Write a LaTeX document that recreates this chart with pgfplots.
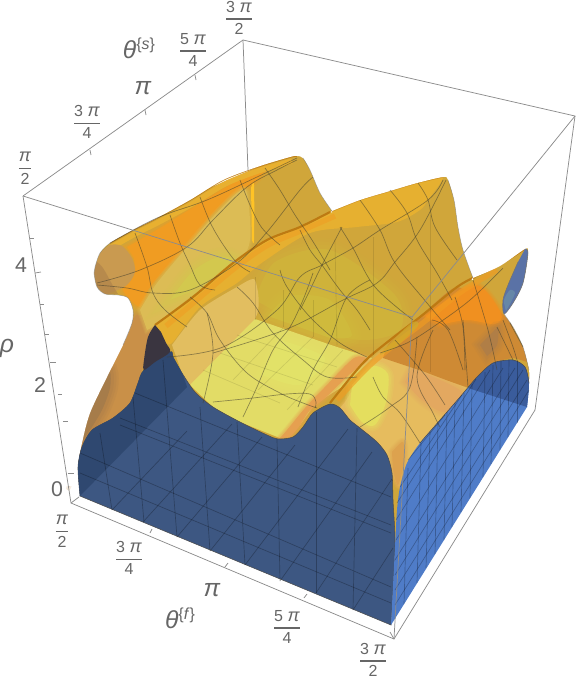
\documentclass[border=0pt]{standalone}
\usepackage{amsmath}
\usepackage{fontspec}
\setmainfont{Liberation Sans}
\usepackage{pgfplots}
\pgfplotsset{compat=1.18}
\definecolor{lab}{HTML}{666666}
\definecolor{frm}{HTML}{8C8C8C}
\definecolor{sbase}{HTML}{D0A63A}
\definecolor{leftwall}{HTML}{C99048}
\definecolor{leftdark}{HTML}{A67C4A}
\definecolor{capc}{HTML}{C99A50}
\definecolor{brightor}{HTML}{F09C22}
\definecolor{crest}{HTML}{BD7A12}
\definecolor{valA}{HTML}{DCBC55}
\definecolor{valB}{HTML}{D3C84E}
\definecolor{ridgeband}{HTML}{E6B030}
\definecolor{ridgeup}{HTML}{E8B030}
\definecolor{wallmid}{HTML}{CFB23A}
\definecolor{wallmid2}{HTML}{CFBA3C}
\definecolor{walltan}{HTML}{E2BE60}
\definecolor{floory}{HTML}{E2DC66}
\definecolor{floorhi}{HTML}{E2E268}
\definecolor{flank}{HTML}{E6A050}
\definecolor{rfloor}{HTML}{E6BC5E}
\definecolor{ryell}{HTML}{E4DE5E}
\definecolor{rorange}{HTML}{E3A860}
\definecolor{rtan}{HTML}{DDA24E}
\definecolor{dome}{HTML}{CE8A34}
\definecolor{domehi}{HTML}{F09020}
\definecolor{domedk}{HTML}{B07E46}
\definecolor{fface}{HTML}{3D5782}
\definecolor{fdark}{HTML}{2F4870}
\definecolor{rface}{HTML}{4F7CC8}
\definecolor{rfacedk}{HTML}{3A5C9C}
\definecolor{ell}{HTML}{5A72A6}
\definecolor{ell2}{HTML}{6C90A8}
\definecolor{darkb}{HTML}{3A3540}
% filled region, feathered region, curves: all in picture coordinates
\newcommand\reg[2]{\addplot[forget plot,draw=none,smooth,tension=0.5,#1] coordinates {#2};}
\newcommand\soft[3]{%
  \addplot[forget plot,smooth,tension=0.5,draw=#2,line width=#1pt,opacity=0.16] coordinates {#3} -- cycle;
  \addplot[forget plot,smooth,tension=0.5,draw=#2,line width=0.7*#1pt,opacity=0.2] coordinates {#3} -- cycle;
  \addplot[forget plot,smooth,tension=0.5,draw=#2,line width=0.4*#1pt,opacity=0.25] coordinates {#3} -- cycle;
  \addplot[forget plot,smooth,tension=0.5,draw=none,fill=#2] coordinates {#3};}
\newcommand\crv[2]{\addplot[mesh line,#1] coordinates {#2};}
\newcommand\lin[1]{\addplot[forget plot,frm,line width=0.55pt] coordinates {#1};}
\newcommand\fg[1]{\addplot[forget plot,color=black,opacity=0.26,line width=0.5pt] coordinates {#1};}
\newcommand\fs[1]{\addplot[forget plot,color=black,opacity=0.10,line width=0.5pt] coordinates {#1};}
\newcommand\fr[2]{$\genfrac{}{}{1pt}{0}{\text{#1}}{\text{#2}}$}
\newcommand\pii{{\fontsize{13.5}{14}\selectfont\textit{π}}}
\newcommand\pib{\textit{π}}
\pgfplotsset{
  mesh line/.style={forget plot,smooth,tension=0.6,color=black!70!olive,opacity=0.55,line width=0.5pt},
}
\tikzset{
  tk/.style={font=\fontsize{12}{13}\selectfont,text=lab,inner sep=0pt},
  bigt/.style={font=\fontsize{16}{17}\selectfont,text=lab,inner sep=0pt},
  hugt/.style={font=\fontsize{18.5}{19}\selectfont,text=lab,inner sep=0pt},
}
\begin{document}
\begin{tikzpicture}
\path[use as bounding box] (0,0) rectangle (432pt,509.25pt);
\begin{axis}[
    anchor=south west, at={(0,0)},
    width=432pt, height=509.25pt, scale only axis,
    xmin=0, xmax=576, ymin=0, ymax=679, y dir=reverse,
    hide axis, clip=false,
  ]
% surface body
\addplot[forget plot,fill=sbase,draw=none] coordinates {(70,470) (90,400) (90,240) (297,150) (335,200) (450,170) (470,270) (535,240) (535,390) (400,560) (300,470)} -- cycle;
% left wall
\soft{8}{leftwall}{(78,460) (90,413) (107,377) (127,335) (136,315) (152,322) (156,332) (145,360) (138,383) (130,403) (113,418) (92,430)}
\soft{12}{leftdark}{(80,445) (90,413) (103,380) (110,372) (110,388) (102,410) (90,430)}
% first ridge
\soft{6}{brightor}{(127,247) (160,228) (200,203) (235,182) (265,168) (253,183) (230,197) (207,220) (190,243) (162,273) (148,290) (140,307) (123,290) (134,275) (134,258)}
\addplot[forget plot,color=ridgeup,line width=4pt,smooth] coordinates {(112,247) (135,234) (159,222) (192,204) (225,184) (258,171) (292,161)};
\addplot[forget plot,color=crest,line width=1.3pt,smooth,opacity=0.85] coordinates {(110,243) (133,230) (157,218) (190,200) (223,180) (257,167) (290,157) (297,156)};
% end cap of the first ridge
\reg{fill=capc}{(100,253) (110,245) (122,246) (132,258) (135,272) (127,285) (113,292) (105,294) (97,287) (94,273) (95,267)}
\reg{fill=leftdark,opacity=0.5}{(105,294) (97,287) (94,273) (96,262) (103,268) (112,284) (118,294)}
% valley behind the middle ridge
\soft{5}{valA}{(140,310) (157,283) (187,247) (210,220) (237,193) (247,193) (250,240) (237,263) (190,297) (155,325) (147,330)}
\soft{14}{valB}{(170,300) (192,272) (215,258) (232,258) (220,272) (190,292)}
\reg{fill=orange!55!yellow!85!white}{(251,188) (254,185) (254,240) (252,240)}
% valley wall between the middle and front ridges
\soft{16}{wallmid}{(255,300) (275,262) (330,250) (395,295) (400,330) (360,340) (300,325)}
\soft{14}{wallmid2}{(268,316) (290,296) (330,300) (352,335) (330,338)}
% middle ridge
\reg{fill=ridgeband}{(155,325) (193,297) (233,263) (267,240) (300,227) (330,212) (360,200) (390,191) (417,183) (443,177) (428,200) (420,210) (397,222) (357,227) (310,233) (263,262) (237,283) (200,307) (172,343) (165,340)}
\addplot[forget plot,color=brightor,line width=4pt,smooth,opacity=0.55] coordinates {(166,326) (198,299) (235,268) (268,245) (303,230) (335,216)};
\addplot[forget plot,color=crest,line width=1.6pt,smooth] coordinates {(155,325) (193,297) (233,263) (267,240) (300,227) (330,212)};
\addplot[forget plot,color=crest,line width=0.8pt,smooth,opacity=0.6] coordinates {(330,212) (360,200) (390,191) (417,183) (443,177)};
% left wall seen through the surface
\addplot[forget plot,fill=walltan,draw=none,smooth,tension=0.4] coordinates {(172,345) (200,310) (237,287) (255,280) (255,319) (190,385) (182,373)};
% floor seen through the surface
\addplot[forget plot,fill=floory,draw=none] coordinates {(255,319) (337,347) (372,358) (345,385) (315,404) (300,425) (280,438) (240,422) (213,407) (190,385)} -- cycle;
\soft{14}{floorhi}{(280,340) (325,358) (300,385) (262,375)}
\soft{5}{flank}{(290,437) (298,428) (310,410) (324,399) (350,374) (368,360) (354,358) (324,388) (305,408) (287,430) (280,438)}
% right of the front ridge
\soft{4}{rfloor}{(345,402) (380,353) (410,363) (470,390) (460,397) (440,420) (420,443) (407,463) (400,487) (392,473) (387,455) (377,442) (360,428) (350,420) (340,408)}
\soft{8}{rorange}{(412,368) (462,392) (445,412) (422,400) (405,382)}
\soft{8}{ryell}{(352,385) (372,366) (388,374) (386,402) (375,425) (362,422) (350,405)}
\soft{6}{rtan}{(392,452) (403,442) (404,462) (398,485) (393,470)}
% dome at the back right
\addplot[forget plot,fill=dome,draw=none,smooth,tension=0.3] coordinates {(383,358) (390,342) (420,317) (457,287) (505,316) (519,340) (530,362) (513,358) (493,363) (477,377) (467,387) (425,372)};
\soft{5}{domehi}{(425,316) (475,285) (501,313) (495,324) (467,320) (440,325)}
\soft{10}{domedk}{(480,345) (490,335) (498,328) (497,345) (487,356)}
% front ridge
\addplot[forget plot,color=brightor,line width=4pt,smooth,opacity=0.65] coordinates {(337,400) (367,368) (394,345) (424,322) (461,292) (497,270)};
\addplot[forget plot,color=crest,line width=1.6pt,smooth] coordinates {(330,403) (363,363) (390,340) (420,317) (457,287) (475,277)};
\addplot[forget plot,color=crest,line width=1pt,smooth] coordinates {(475,277) (500,265) (525,249)};
\reg{fill=yellow!60!orange!80!black,opacity=0.7}{(380,355) (395,338) (413,322) (418,326) (395,348)}
% everything outside the surface stays white
\addplot[forget plot,fill=white,draw=none,smooth,tension=0.5] coordinates {(-30,560) (-30,560) (-30,709) (-30,709) (606,709) (606,709) (606,-30) (606,-30) (-30,-30) (-30,-30) (-30,560) (-30,560) (80,496) (80,496) (78,467) (82,443) (90,413) (107,377) (123,345) (132,323) (133,310) (128,298) (118,295) (105,294) (97,287) (94,273) (95,267) (100,253) (110,243) (133,230) (157,218) (190,200) (223,180) (257,167) (290,157) (297,156) (303,158) (310,170) (320,193) (332,211) (332,211) (360,200) (390,191) (417,183) (443,177) (448,180) (454,200) (458,227) (463,250) (473,278) (473,278) (500,266) (525,249) (528,253) (523,283) (513,303) (504,314) (504,314) (513,327) (523,347) (529,370) (529,383) (527,407) (527,407) (391,625) (391,625) (80,496) (80,496) (-30,560) (-30,560)};
% box edges and ticks
\lin{(23,196) (243,40) (575,116) (535,410)}
\lin{(243,40) (248,170)}
\lin{(23,196) (71,503) (394,639) (535,410)}
\lin{(90,150) (91,155)}
\lin{(145,110) (146,115)}
\lin{(195,75) (196,80)}
\lin{(30,238) (34,238)}
\lin{(35,273) (41,272)}
\lin{(40,304) (44,304)}
\lin{(45,334) (49,334)}
\lin{(50,362) (56,362)}
\lin{(58,394) (62,394)}
\lin{(63,421) (68,421)}
\lin{(68,473) (74,473)}
\lin{(150,533) (152,529)}
\lin{(225,567) (228,563)}
\lin{(304,598) (307,594)}
\lin{(71,503) (79,497)}
\lin{(394,639) (390,632)}
% outlines of the surface
\addplot[forget plot,color=black!60,opacity=0.5,line width=0.4pt,smooth,tension=0.5] coordinates {(303,158) (310,170) (320,193) (332,211)};
\addplot[forget plot,color=black!60,opacity=0.5,line width=0.4pt,smooth,tension=0.5] coordinates {(448,180) (454,200) (458,227) (463,250) (473,278)};
\addplot[forget plot,color=black!60,opacity=0.5,line width=0.4pt,smooth,tension=0.5] coordinates {(504,314) (513,327) (523,347) (529,370)};
\addplot[forget plot,color=black!60,opacity=0.5,line width=0.4pt,smooth,tension=0.5] coordinates {(123,345) (132,323) (133,310) (128,298) (118,295) (105,294) (97,287) (94,273) (95,267) (100,253) (110,243)};
% blue end of the front ridge
\reg{fill=ell,draw=black!55,line width=0.4pt}{(525,249) (528,253) (523,283) (513,303) (504,314) (503,300) (508,285) (518,262)}
\reg{fill=ell2,opacity=0.7}{(506,311) (504,300) (510,290) (515,293) (510,304)}
% front face
\addplot[forget plot,fill=fface,draw=black!70,line width=0.4pt,smooth,tension=0.45] coordinates {(80,496) (78,467) (82,447) (92,430) (113,418) (130,403) (138,383) (144,370) (170,352) (173,357) (182,373) (195,392) (213,407) (240,422) (267,435) (278,439) (293,437) (303,427) (313,413) (330,404) (340,408) (350,420) (360,428) (377,442) (387,455) (392,473) (393,500) (395,547) (391,625)} -- cycle;
\addplot[forget plot,fill=fdark,draw=none,smooth,tension=0.45] coordinates {(80,496) (78,467) (82,447) (92,430) (113,418) (130,403) (138,383) (144,370) (170,352) (173,357) (182,373) (187,387)} -- cycle;
\reg{fill=darkb}{(155,325) (148,337) (144,360) (144,370) (155,362) (170,352) (166,343) (161,332)}
% right face
\addplot[forget plot,fill=rface,draw=none,smooth,tension=0.45] coordinates {(391,625) (395,547) (397,510) (400,487) (407,463) (420,443) (440,420) (460,397) (477,377) (493,363) (513,360) (525,367) (529,383) (527,407)} -- cycle;
\addplot[forget plot,fill=rfacedk,draw=none,smooth,tension=0.45] coordinates {(468,388) (477,377) (493,363) (513,360) (525,367) (529,383) (527,407)} -- cycle;
\addplot[forget plot,color=black!70,line width=0.4pt,smooth,tension=0.45] coordinates {(420,443) (440,420) (460,397) (477,377) (493,363) (513,360) (525,367) (529,383)};
% front face grid
\fg{(100,433) (112,510)}
\fg{(133,397) (144,522)}
\fg{(163,360) (177,537)}
\fg{(200,407) (210,551)}
\fg{(237,422) (245,565)}
\fg{(277,439) (280,581)}
\fg{(316,412) (316,593)}
\fg{(357,428) (353,610)}
\fg{(80,453) (391,587)}
\fg{(120,418) (391,525)}
\fg{(120,425) (391,533)}
\fg{(135,393) (391,497)}
\fg{(80,473) (391,603)}
\fg{(112,510) (187,431)}
\fg{(143,522) (232,424)}
\fg{(177,537) (262,437)}
\fg{(210,551) (295,445)}
\fg{(245,565) (348,429)}
\fg{(280,581) (372,452)}
\fg{(316,593) (392,479)}
\fg{(353,610) (393,548)}
% right face grid
\fg{(404,604) (408,468)}
\fg{(417,583) (421,443)}
\fg{(426,568) (430,432)}
\fg{(435,554) (438,423)}
\fg{(444,540) (447,412)}
\fg{(452,527) (455,403)}
\fg{(461,512) (464,393)}
\fg{(470,498) (472,384)}
\fg{(483,477) (485,372)}
\fg{(491,464) (493,365)}
\fg{(500,450) (501,361)}
\fg{(508,437) (509,360)}
\fg{(517,423) (517,360)}
\fg{(395,605) (529,390)}
\fg{(395,590) (527,380)}
\fg{(395,575) (523,370)}
\fg{(395,560) (515,368)}
\fg{(396,540) (503,368)}
\fg{(396,520) (490,370)}
\fg{(397,503) (476,379)}
\fg{(400,487) (462,395)}
\fg{(408,460) (445,415)}
% grid of the floor and walls, faint through the surface
\fs{(237,335) (337,367)}
\fs{(220,353) (313,385)}
\fs{(203,370) (280,403)}
\fs{(283,328) (233,380)}
\fs{(313,337) (258,390)}
\fs{(343,350) (287,410)}
\fs{(255,277) (255,320)}
\fs{(283,290) (283,327)}
\fs{(313,300) (313,337)}
\fs{(373,237) (373,355)}
\fs{(335,240) (337,345)}
\fs{(430,215) (430,372)}
% surface mesh
\crv{}{(97,283) (140,270) (187,247) (213,220) (247,187) (277,170) (297,160)}
\crv{}{(97,285) (127,288) (153,293) (190,290) (237,263) (267,232) (300,190) (313,177)}
\crv{}{(110,243) (157,218) (207,200) (257,177) (297,158)}
\crv{}{(167,357) (223,347) (277,310) (300,277) (322,265) (353,248) (380,230) (428,200) (443,180)}
\crv{}{(213,353) (287,329) (343,300) (377,283) (395,262) (420,230) (446,180)}
\crv{}{(213,402) (253,398) (287,394) (310,394) (316,402) (315,408)}
\crv{}{(135,233) (147,267) (153,293) (165,310) (187,327)}
\crv{}{(170,215) (180,243) (190,265) (200,285) (215,290)}
\crv{}{(200,197) (210,222) (222,243) (237,263) (250,272)}
\crv{}{(190,297) (207,313) (220,340) (247,373) (280,393) (303,403) (317,408)}
\crv{}{(237,287) (253,303) (273,333) (303,360) (327,377) (357,377)}
\crv{}{(280,270) (287,287) (310,317) (340,343) (367,357)}
\crv{}{(313,273) (303,300) (290,327) (273,350) (257,387) (243,417)}
\crv{}{(370,280) (347,297) (330,340) (313,370) (298,407)}
\crv{}{(207,313) (213,353) (203,403)}
\crv{}{(360,200) (380,230) (395,263) (427,303) (450,330)}
\crv{}{(390,190) (407,213) (417,240) (437,273) (452,300)}
\crv{}{(340,227) (353,248) (375,287) (413,320)}
\crv{}{(418,183) (428,200) (435,227) (457,260)}
\crv{}{(322,265) (340,290) (357,310) (370,330)}
\crv{}{(300,230) (310,250) (322,265)}
\crv{}{(342,227) (322,265) (310,290) (300,310)}
\crv{}{(265,168) (280,190) (295,215) (312,240) (330,270)}
\crv{}{(240,180) (250,205) (262,228) (280,245)}
\crv{}{(473,280) (488,330) (497,370)}
\crv{}{(455,297) (463,327) (465,370)}
\crv{}{(432,320) (448,330) (463,370)}
\crv{}{(503,320) (513,347) (517,360)}
\crv{}{(510,323) (523,347)}
\crv{}{(417,337) (410,387) (390,407) (360,427)}
\crv{}{(373,377) (383,397) (400,413) (420,443)}
\crv{}{(463,320) (468,387)}
\crv{}{(497,327) (513,360)}
\crv{}{(433,330) (417,377) (433,413) (440,427)}
\crv{}{(380,353) (407,343) (433,327) (470,300) (503,268)}
\crv{}{(395,340) (425,375) (445,405)}
% box edges in front of the surface
\lin{(412,317) (575,116)}
\lin{(23,196) (412,317)}
\lin{(412,317) (394,639)}
% labels
\node[tk] at (axis cs:239,18) {\fr{3 \pii}{2}};
\node[tk] at (axis cs:193,50) {\fr{5 \pii}{4}};
\node[hugt] at (axis cs:143,88) {\pib};
\node[tk] at (axis cs:87,122) {\fr{3 \pii}{4}};
\node[tk] at (axis cs:25,168) {\fr{\pii}{2}};
\node[hugt] at (axis cs:139,48) {\textit{θ}\raisebox{7pt}{\fontsize{12}{13}\selectfont\{\textit{s}\}}};
\node[bigt] at (axis cs:21,265) {4};
\node[bigt] at (axis cs:40,385) {2};
\node[bigt] at (axis cs:57,489) {0};
\node[hugt] at (axis cs:7,348) {\textit{ρ}};
\node[tk] at (axis cs:62,531) {\fr{\pii}{2}};
\node[tk] at (axis cs:129,558) {\fr{3 \pii}{4}};
\node[hugt] at (axis cs:212,590) {\pib};
\node[hugt] at (axis cs:180,618) {\textit{θ}\raisebox{7pt}{\fontsize{12}{13}\selectfont\{\textit{f}\}}};
\node[tk] at (axis cs:287,627) {\fr{5 \pii}{4}};
\node[tk] at (axis cs:373,660) {\fr{3 \pii}{2}};
\end{axis}
\end{tikzpicture}
\end{document}
